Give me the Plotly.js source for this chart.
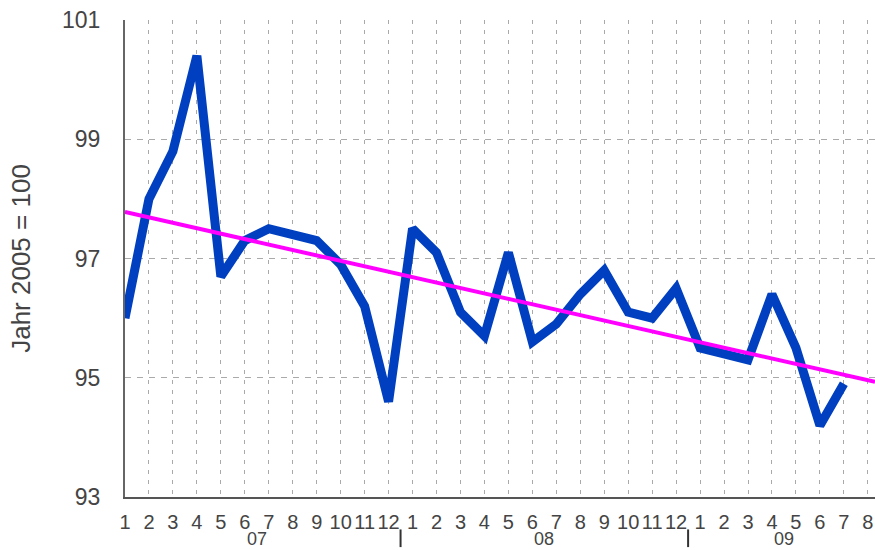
<!DOCTYPE html>
<html>
<head>
<meta charset="utf-8">
<script src="https://cdn.plot.ly/plotly-3.0.1.min.js"></script>
<style>
html,body{margin:0;padding:0;background:#fff;}
#chart{width:875px;height:550px;}
</style>
</head>
<body>
<div id="chart"></div>
<script>
// Month tick labels (Jan 2007 .. Aug 2009)
const monthLabels = ["1","2","3","4","5","6","7","8","9","10","11","12",
                     "1","2","3","4","5","6","7","8","9","10","11","12",
                     "1","2","3","4","5","6","7","8"];
// Index values (Jahr 2005 = 100), Jan 2007 .. Jul 2009
const indexValues = [96.0, 98.0, 98.8, 100.4, 96.7, 97.3, 97.5, 97.4, 97.3, 96.9, 96.2, 94.6,
                     97.5, 97.1, 96.1, 95.7, 97.1, 95.6, 95.9, 96.4, 96.8, 96.1, 96.0, 96.5,
                     95.5, 95.4, 95.3, 96.4, 95.5, 94.2, 94.9];
// Trend line end points (start of Jan 2007, right edge of chart)
const trendX = [0, 31.3];
const trendY = [97.78, 94.93];
// Year groups: label and centre position (in month index units) and separators
const yearLabels = ["07", "08", "09"];
const yearCenters = [5.5, 17.5, 27.5];
const yearSeparators = [11.5, 23.5];
const yTicks = [93, 95, 97, 99, 101];

const monthIdx = monthLabels.map((_, i) => i);
const valueIdx = indexValues.map((_, i) => i);

const textColor = "#444444";
const font = "Liberation Sans, Arial, sans-serif";

const traces = [
  {
    x: valueIdx, y: indexValues, type: "scatter", mode: "lines",
    line: {color: "#0040c0", width: 9, shape: "linear"},
    hoverinfo: "y", showlegend: false, name: "Index"
  },
  {
    x: trendX, y: trendY, type: "scatter", mode: "lines",
    line: {color: "#ff00ff", width: 4},
    hoverinfo: "skip", showlegend: false, name: "Trend"
  }
];

const annotations = yearLabels.map((t, i) => ({
  x: yearCenters[i], xref: "x", y: -0.088, yref: "paper",
  text: t, showarrow: false, xanchor: "center", yanchor: "middle",
  font: {family: font, size: 18, color: textColor}
}));

const shapes = yearSeparators.map(s => ({
  type: "line", xref: "x", yref: "paper",
  x0: s, x1: s, y0: -0.068, y1: -0.105,
  line: {color: "#333333", width: 2}
}));

const layout = {
  width: 875, height: 550,
  margin: {l: 125, r: 0, t: 20, b: 53},
  paper_bgcolor: "#ffffff", plot_bgcolor: "#ffffff",
  font: {family: font, color: textColor},
  xaxis: {
    range: [0, 31.3],
    tickmode: "array", tickvals: monthIdx, ticktext: monthLabels,
    tickfont: {family: font, size: 20, color: textColor},
    tickangle: 0,
    showgrid: true, gridcolor: "#aaaaaa", griddash: "4px,6px", gridwidth: 1,
    showline: true, linecolor: "#555555", linewidth: 2,
    ticks: "", ticklabelstandoff: 6, zeroline: false, fixedrange: true
  },
  yaxis: {
    range: [93, 101],
    tickmode: "array", tickvals: yTicks,
    tickfont: {family: font, size: 23, color: textColor},
    showgrid: true, gridcolor: "#aaaaaa", griddash: "6px,6px", gridwidth: 1,
    showline: true, linecolor: "#666666", linewidth: 2,
    ticks: "", ticklabelstandoff: 18, zeroline: false, fixedrange: true,
    title: {text: "Jahr 2005 = 100", font: {family: font, size: 26, color: textColor}, standoff: 24}
  },
  annotations: annotations,
  shapes: shapes
};

Plotly.newPlot("chart", traces, layout, {staticPlot: true, displayModeBar: false});
</script>
</body>
</html>
